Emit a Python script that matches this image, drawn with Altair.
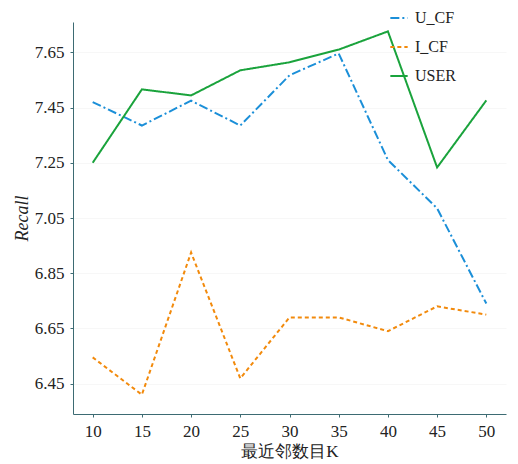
import altair as alt
import pandas as pd

ks = [10, 15, 20, 25, 30, 35, 40, 45, 50]
u_cf = [7.47, 7.385, 7.475, 7.385, 7.567, 7.646, 7.26, 7.085, 6.74]
i_cf = [6.545, 6.41, 6.925, 6.469, 6.69, 6.69, 6.64, 6.73, 6.70]
user = [7.25, 7.516, 7.494, 7.585, 7.614, 7.66, 7.726, 7.233, 7.476]
series = ["U_CF", "I_CF", "USER"]
colors = ["#1b8fd8", "#f28a0c", "#1aa33c"]
dashes = [[9, 3, 2, 3], [4, 3], [1, 0]]
y_ticks = [6.45, 6.65, 6.85, 7.05, 7.25, 7.45, 7.65]
x_ticks = [10, 15, 20, 25, 30, 35, 40, 45, 50]

rows = []
for name, vals in zip(series, [u_cf, i_cf, user]):
    for k, v in zip(ks, vals):
        rows.append({"K": k, "Recall": v, "series": name})
df = pd.DataFrame(rows)

font = "Liberation Serif"

legend = alt.Legend(
    title=None, orient="none", legendX=316, legendY=-14,
    symbolType="stroke", symbolSize=300, symbolStrokeWidth=2.2,
    labelFont=font, labelFontSize=16, labelColor="#222",
    rowPadding=11, labelOffset=6,
)

chart = alt.Chart(df).mark_line(strokeWidth=2).encode(
    x=alt.X("K:Q", scale=alt.Scale(domain=[8, 52], nice=False),
            axis=alt.Axis(values=x_ticks, title="最近邻数目K", grid=False,
                          labelFont=font, labelFontSize=17, labelColor="#222",
                          titleFont=font, titleFontSize=17, titleFontWeight="normal",
                          titleColor="#222", domainColor="#3d6b73", tickColor="#3d6b73",
                          tickSize=3, labelPadding=6, titlePadding=4)),
    y=alt.Y("Recall:Q", scale=alt.Scale(domain=[6.34, 7.76], nice=False, zero=False),
            axis=alt.Axis(values=y_ticks, format=".2f", title="Recall", grid=True,
                          gridColor="#f7f7f7",
                          labelFont=font, labelFontSize=17, labelColor="#222",
                          titleFont=font, titleFontSize=18, titleFontStyle="italic",
                          titleFontWeight="normal", titleColor="#222",
                          domainColor="#3d6b73", tickColor="#3d6b73",
                          tickSize=3, labelPadding=6, titlePadding=3)),
    color=alt.Color("series:N", scale=alt.Scale(domain=series, range=colors), legend=legend),
    strokeDash=alt.StrokeDash("series:N", scale=alt.Scale(domain=series, range=dashes), legend=legend),
).properties(
    width=433, height=392,
    autosize=alt.AutoSizeParams(type="none"),
    padding={"left": 65, "top": 14, "right": 4, "bottom": 50},
).configure_view(stroke=None)

chart.save("out.html", embed_options={"renderer": "svg", "actions": False})
